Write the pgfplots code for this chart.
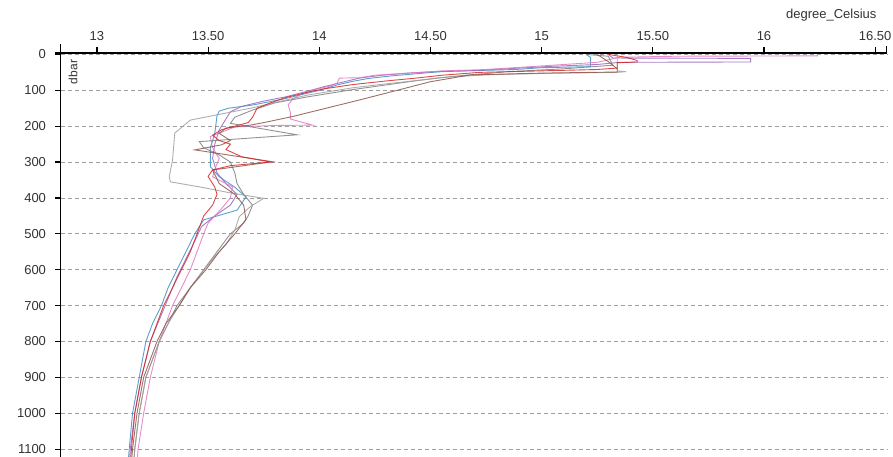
\documentclass[border=0pt]{standalone}
\usepackage{fontspec}
\setmainfont{Liberation Sans}
\usepackage{pgfplots}
\pgfplotsset{compat=1.18}
\definecolor{cblue}{HTML}{3F8FC4}
\definecolor{cred}{HTML}{D62728}
\definecolor{cpink}{HTML}{E377C2}
\definecolor{cpurple}{HTML}{9467BD}
\definecolor{cbrown}{HTML}{8C564B}
\definecolor{cgray}{HTML}{7F7F7F}
\definecolor{clgray}{HTML}{A0A0A0}
\definecolor{txt}{HTML}{333333}
\begin{document}
\begin{tikzpicture}[x=1pt,y=1pt]
\begin{axis}[
  at={(60.5pt,-53pt)}, anchor=north west,
  scale only axis, width=826.2pt, height=404pt,
  xmin=12.836, xmax=16.552, ymin=-4, ymax=1122,
  y dir=reverse,
  axis x line=top, axis y line=left,
  axis line style={-, black, line width=1.2pt},
  xtick={13,13.5,14,14.5,15,15.5,16,16.5},
  xticklabels={13,13.50,14,14.50,15,15.50,16,16.50},
  ytick={0,100,...,1100},
  yticklabel style={/pgf/number format/1000 sep={}, xshift=-5pt},
  xticklabel style={yshift=3pt},
  tick align=outside, major tick length=6pt,
  xtick style={draw=none}, ytick style={draw=none},
  ymajorgrids, xmajorgrids=false,
  grid style={gray!75, line width=0.8pt, dash pattern=on 4pt off 3pt},
  every tick label/.append style={font=\fontsize{13}{15}\selectfont, text=txt},
  /pgf/number format/assume math mode=true,
  clip=true,
  every axis plot/.append style={line width=0.9pt, opacity=0.85},
]
% blue
\addplot[cblue] coordinates {(15.20,0)(15.22,8)(15.22,34)(15.00,37)(14.88,42)(14.70,45)(14.55,48)(14.45,53)(14.32,60)(14.22,67)(14.15,75)(14.08,85)(14.00,100)(13.92,112)(13.84,124)(13.70,141)(13.59,150)(13.55,158)(13.54,170)(13.53,220)(13.51,260)(13.51,313)(13.55,341)(13.62,370)(13.67,397)(13.63,434)(13.48,461)(13.44,500)(13.40,550)(13.36,600)(13.32,650)(13.29,700)(13.25,750)(13.22,800)(13.19,900)(13.16,1000)(13.145,1100)(13.14,1140)};
% purple
\addplot[cpurple] coordinates {(15.30,0)(15.32,10)(15.94,11)(15.94,21)(15.35,22)(15.25,28)(15.05,33)(14.90,38)(14.70,45)(14.55,47)(14.40,52)(14.28,58)(14.18,66)(14.10,78)(14.02,90)(13.95,102)(13.85,118)(13.75,130)(13.65,145)(13.60,160)(13.58,180)(13.55,210)(13.53,250)(13.52,290)(13.54,330)(13.58,360)(13.63,390)(13.60,420)(13.53,450)(13.47,480)(13.44,520)(13.40,570)(13.36,620)(13.32,680)(13.28,740)(13.24,800)(13.20,900)(13.17,1000)(13.15,1100)(13.145,1140)};
% pink
\addplot[cpink] coordinates {(16.24,0)(16.24,4)(15.60,5)(15.35,8)(15.30,15)(15.25,22)(15.10,28)(14.95,34)(14.75,42)(14.55,46)(14.40,52)(14.25,58)(14.18,65)(14.09,66)(14.08,80)(14.05,88)(13.98,98)(13.92,110)(13.88,125)(13.86,140)(13.87,163)(13.87,180)(13.97,197)(13.80,198)(13.62,202)(13.51,229)(13.52,260)(13.55,290)(13.53,320)(13.52,341)(13.61,369)(13.60,400)(13.56,430)(13.50,470)(13.48,500)(13.45,550)(13.42,600)(13.38,650)(13.34,700)(13.31,750)(13.28,800)(13.24,900)(13.21,1000)(13.185,1100)(13.18,1140)};
% gray (dark)
\addplot[cgray] coordinates {(15.20,0)(15.30,5)(15.32,30)(15.10,40)(14.85,48)(14.62,60)(14.45,72)(14.30,85)(14.15,98)(14.05,108)(13.95,118)(13.80,135)(13.70,155)(13.62,175)(13.60,192)(13.90,224)(13.46,243)(13.48,260)(13.55,280)(13.60,300)(13.62,330)(13.63,360)(13.66,390)(13.70,420)(13.68,450)(13.66,470)(13.60,500)(13.54,550)(13.48,600)(13.42,650)(13.36,700)(13.32,750)(13.28,800)(13.22,900)(13.19,1000)(13.17,1100)(13.165,1140)};
% light gray
\addplot[clgray] coordinates {(15.34,0)(15.34,46)(15.38,48)(15.34,50)(15.00,53)(14.75,57)(14.55,64)(14.45,72)(14.30,82)(14.15,93)(14.05,103)(13.95,113)(13.85,127)(13.69,150)(13.42,183)(13.35,219)(13.34,294)(13.325,341)(13.33,355)(13.46,369)(13.61,387)(13.75,401)(13.69,424)(13.64,452)(13.62,490)(13.58,530)(13.52,570)(13.47,610)(13.42,650)(13.37,700)(13.32,750)(13.28,800)(13.22,900)(13.19,1000)(13.17,1100)(13.165,1140)};
% brown
\addplot[cbrown] coordinates {(15.25,0)(15.30,20)(15.34,40)(15.34,49)(15.00,52)(14.68,57)(14.50,76)(14.35,100)(14.18,127)(14.03,150)(13.88,173)(13.75,190)(13.69,197)(13.58,205)(13.55,220)(13.60,240)(13.56,252)(13.44,266)(13.79,299)(13.52,322)(13.55,360)(13.62,390)(13.66,420)(13.67,460)(13.62,500)(13.55,550)(13.49,600)(13.42,650)(13.37,700)(13.31,750)(13.27,800)(13.21,900)(13.18,1000)(13.16,1100)(13.155,1140)};
% red
\addplot[cred] coordinates {(15.30,0)(15.38,8)(15.43,17)(15.43,21)(15.34,23)(15.34,38)(15.25,42)(14.72,50)(14.55,58)(14.45,65)(14.30,74)(14.15,84)(14.02,96)(13.95,105)(13.85,120)(13.78,135)(13.72,150)(13.70,175)(13.68,190)(13.62,200)(13.56,210)(13.52,225)(13.55,240)(13.60,250)(13.58,265)(13.65,285)(13.78,300)(13.60,310)(13.52,322)(13.50,340)(13.53,370)(13.54,390)(13.52,420)(13.48,450)(13.45,500)(13.42,550)(13.38,600)(13.34,650)(13.30,700)(13.27,750)(13.24,800)(13.20,900)(13.17,1000)(13.155,1100)(13.15,1140)};
\coordinate (TL) at (axis cs:12.836,-4);
\coordinate (TR) at (axis cs:16.552,-4);
\pgfplotsinvokeforeach{0,...,7}{\coordinate (xt#1) at (axis cs:{13+0.5*#1},-4);}
\pgfplotsinvokeforeach{0,...,11}{\coordinate (yt#1) at (axis cs:12.836,{100*#1});}
\end{axis}
\foreach \i in {0,...,7} {\draw[black, line width=1.2pt] (xt\i) -- ++(0,6pt);}
\foreach \i in {0,...,11} {\draw[black, line width=1.2pt] (yt\i) -- ++(-6pt,0);}
\draw[black, line width=1.2pt] (TL) -- ++(-6pt,0);
\draw[black, line width=1.2pt] (TL) -- ++(0,9pt);
\draw[black, line width=1.2pt] (TR) -- ++(0,7pt);
\node[anchor=east, text=txt, font=\fontsize{13}{15}\selectfont] at (880pt,-15pt) {degree\_Celsius};
\node[rotate=90, text=txt, font=\fontsize{12}{14}\selectfont] at (73pt,-72pt) {dbar};
\pgfresetboundingbox
\path (0,0) rectangle (893pt,-457pt);
\end{tikzpicture}
\end{document}
